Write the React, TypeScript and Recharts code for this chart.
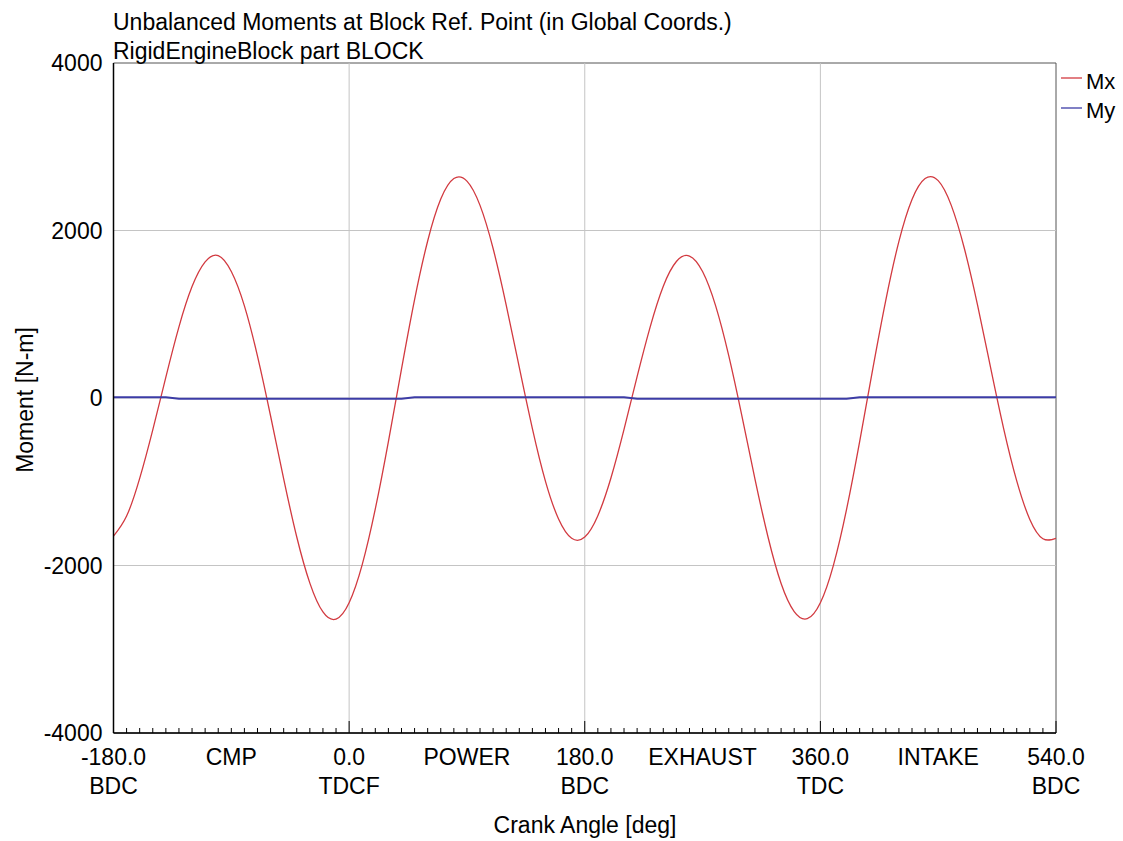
import React from 'react';
import { LineChart, Line, XAxis, YAxis, ReferenceLine, ReferenceArea } from 'recharts';

const angles = [
  -180, -170, -160, -150, -140, -130, -120, -110, -100, -90, -80, -70, -60, -50, -40, -30, -20, -10,
  0, 10, 20, 30, 40, 50, 60, 70, 80, 90, 100, 110, 120, 130, 140, 150, 160, 170,
  180, 190, 200, 210, 220, 230, 240, 250, 260, 270, 280, 290, 300, 310, 320, 330, 340, 350,
  360, 370, 380, 390, 400, 410, 420, 430, 440, 450, 460, 470, 480, 490, 500, 510, 520, 530, 540,
];

const mxValues = [
  -1650, -1410, -960, -380, 250, 850, 1330, 1625, 1700, 1510, 1100, 500, -215, -965, -1660, -2210, -2555, -2640,
  -2445, -1990, -1325, -520, 345, 1175, 1875, 2375, 2620, 2590, 2300, 1785, 1110, 365, -365, -995, -1445, -1675,
  -1660, -1405, -955, -375, 255, 850, 1335, 1630, 1695, 1510, 1100, 505, -210, -965, -1660, -2215, -2550, -2635,
  -2445, -1995, -1330, -520, 345, 1170, 1870, 2370, 2620, 2595, 2300, 1785, 1115, 365, -365, -990, -1450, -1680, -1675,
];

const myValues = [
  8, 8, 8, 8, 8, -8, -8, -8, -8, -8, -8, -8, -8, -8, -8, -8, -8, -8,
  -8, -8, -8, -8, -8, 8, 8, 8, 8, 8, 8, 8, 8, 8, 8, 8, 8, 8,
  8, 8, 8, 8, -8, -8, -8, -8, -8, -8, -8, -8, -8, -8, -8, -8, -8, -8,
  -8, -8, -8, 8, 8, 8, 8, 8, 8, 8, 8, 8, 8, 8, 8, 8, 8, 8, 8,
];

const xTickValues = [
  -180, -170, -160, -150, -140, -130, -120, -110, -100, -90, -80, -70, -60, -50, -40, -30, -20, -10,
  0, 10, 20, 30, 40, 50, 60, 70, 80, 90, 100, 110, 120, 130, 140, 150, 160, 170,
  180, 190, 200, 210, 220, 230, 240, 250, 260, 270, 280, 290, 300, 310, 320, 330, 340, 350,
  360, 370, 380, 390, 400, 410, 420, 430, 440, 450, 460, 470, 480, 490, 500, 510, 520, 530, 540,
];
const majorTickValues = [-180, 0, 180, 360, 540];
const xLabelValues = [-180, -90, 0, 90, 180, 270, 360, 450, 540];
const xLabelTop = ['-180.0', 'CMP', '0.0', 'POWER', '180.0', 'EXHAUST', '360.0', 'INTAKE', '540.0'];
const xLabelBottom = ['BDC', '', 'TDCF', '', 'BDC', '', 'TDC', '', 'BDC'];
const yTickValues = [-4000, -2000, 0, 2000, 4000];
const xGridValues = [0, 180, 360];
const yGridValues = [2000, 0, -2000];

const seriesNames = ['Mx', 'My'];
const seriesColors = ['#d23a40', '#3c3ca6'];
const seriesWidths = [1.3, 2];

const titleLines = ['Unbalanced Moments at Block Ref. Point (in Global Coords.)', 'RigidEngineBlock part BLOCK'];
const xAxisTitle = 'Crank Angle [deg]';
const yAxisTitle = 'Moment [N-m]';

const FONT = '"Liberation Sans", Arial, sans-serif';

const data = angles.map((a, i) => ({ angle: a, Mx: mxValues[i], My: myValues[i] }));

const XTick = (props: any) => {
  const { x, y, payload } = props;
  const v = payload.value;
  const major = majorTickValues.includes(v);
  const idx = xLabelValues.indexOf(v);
  return (
    <g>
      <line x1={x} x2={x} y1={y} y2={y - (major ? 12 : 5)} stroke="#000" strokeWidth={1} />
      {idx >= 0 && (
        <text x={x} y={y + 32} textAnchor="middle" fontSize={23} fontFamily={FONT} fill="#000">
          {xLabelTop[idx]}
        </text>
      )}
      {idx >= 0 && xLabelBottom[idx] && (
        <text x={x} y={y + 61} textAnchor="middle" fontSize={23} fontFamily={FONT} fill="#000">
          {xLabelBottom[idx]}
        </text>
      )}
    </g>
  );
};

const YTick = (props: any) => {
  const { x, y, payload } = props;
  return (
    <text x={x - 11} y={y + 8} textAnchor="end" fontSize={23} fontFamily={FONT} fill="#000">
      {payload.value}
    </text>
  );
};

export default function App() {
  return (
    <div style={{ position: 'absolute', left: 0, top: 0, width: 1123, height: 841, background: '#fff' }}>
      <LineChart
        width={1123}
        height={841}
        data={data}
        margin={{ top: 63, right: 67, bottom: 78, left: 53.5 }}
      >
        <XAxis
          dataKey="angle"
          type="number"
          domain={[-180, 540]}
          ticks={xTickValues}
          interval={0}
          tick={<XTick />}
          tickLine={false}
          tickSize={0}
          tickMargin={0}
          height={30}
          axisLine={{ stroke: '#000', strokeWidth: 1.5 }}
          allowDataOverflow
        />
        <YAxis
          type="number"
          domain={[-4000, 4000]}
          ticks={yTickValues}
          interval={0}
          tick={<YTick />}
          tickLine={false}
          tickSize={0}
          tickMargin={0}
          width={60}
          axisLine={{ stroke: '#000', strokeWidth: 1.5 }}
          allowDataOverflow
        />
        {xGridValues.map((v) => (
          <ReferenceLine key={'gx' + v} x={v} stroke="#c4c4c4" strokeWidth={1} />
        ))}
        {yGridValues.map((v) => (
          <ReferenceLine key={'gy' + v} y={v} stroke="#c4c4c4" strokeWidth={1} />
        ))}
        <ReferenceArea x1={-180} x2={540} y1={-4000} y2={4000} fill="none" stroke="#555" strokeWidth={1} />
        <Line
          dataKey="Mx"
          type="natural"
          stroke={seriesColors[0]}
          strokeWidth={seriesWidths[0]}
          dot={false}
          isAnimationActive={false}
        />
        <Line
          dataKey="My"
          type="linear"
          stroke={seriesColors[1]}
          strokeWidth={seriesWidths[1]}
          dot={false}
          isAnimationActive={false}
        />
      </LineChart>
      <svg
        width={1123}
        height={841}
        style={{ position: 'absolute', left: 0, top: 0, pointerEvents: 'none' }}
      >
        {titleLines.map((t, i) => (
          <text key={t} x={113} y={30 + i * 29} fontSize={23} fontFamily={FONT} fill="#000">
            {t}
          </text>
        ))}
        <text x={585} y={833} textAnchor="middle" fontSize={23} fontFamily={FONT} fill="#000">
          {xAxisTitle}
        </text>
        <text
          transform="translate(33,400) rotate(-90)"
          textAnchor="middle"
          fontSize={23}
          fontFamily={FONT}
          fill="#000"
        >
          {yAxisTitle}
        </text>
        {seriesNames.map((n, i) => (
          <g key={n}>
            <line x1={1061} x2={1082} y1={78 + i * 30} y2={78 + i * 30} stroke={seriesColors[i]} strokeWidth={1.3} />
            <text x={1086} y={89 + i * 29} fontSize={22} fontFamily={FONT} fill="#000">
              {n}
            </text>
          </g>
        ))}
      </svg>
    </div>
  );
}
